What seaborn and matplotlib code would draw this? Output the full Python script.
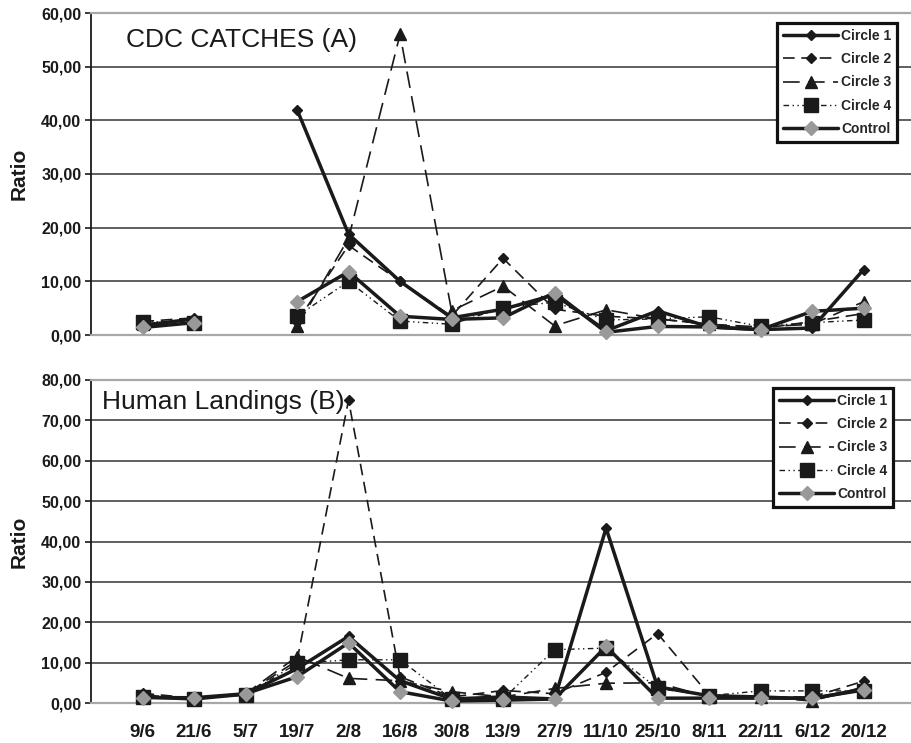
import numpy as np
import pandas as pd
import matplotlib
matplotlib.use("Agg")
import matplotlib.pyplot as plt
from matplotlib.lines import Line2D
from matplotlib.ticker import FuncFormatter, MultipleLocator
import seaborn as sns

dates = ["9/6", "21/6", "5/7", "19/7", "2/8", "16/8", "30/8", "13/9", "27/9",
         "11/10", "25/10", "8/11", "22/11", "6/12", "20/12"]
series_names = ["Circle 1", "Circle 2", "Circle 3", "Circle 4", "Control"]

# Panel A: CDC catches
cdc_circle1 = [1.8, 3.0, np.nan, 42.0, 18.8, 10.0, 3.2, 4.8, 7.5, 0.8, 4.5, 1.5, 1.0, 1.3, 12.2]
cdc_circle2 = [2.5, 3.2, np.nan, 2.5, 16.7, 10.0, 3.5, 14.3, 4.8, 3.5, 3.0, 2.0, 1.2, 2.5, 4.0]
cdc_circle3 = [2.0, 2.8, np.nan, 1.6, 18.0, 56.0, 4.5, 9.1, 1.7, 4.7, 3.0, 2.0, 1.5, 2.0, 6.2]
cdc_circle4 = [2.5, 2.3, np.nan, 3.5, 10.0, 2.6, 2.0, 5.1, 6.1, 2.8, 3.0, 3.4, 1.6, 2.3, 2.8]
cdc_control = [1.4, 2.3, np.nan, 6.2, 11.8, 3.5, 2.9, 3.2, 7.9, 0.5, 1.6, 1.5, 1.0, 4.4, 5.0]

# Panel B: Human landings
hl_circle1 = [1.5, 1.0, 2.2, 8.5, 16.5, 5.5, 1.0, 1.5, 1.0, 43.3, 4.0, 1.8, 1.5, 1.0, 3.5]
hl_circle2 = [2.4, 1.2, 2.2, 10.5, 75.0, 6.5, 1.5, 3.1, 2.3, 7.6, 17.2, 2.0, 1.5, 1.5, 5.4]
hl_circle3 = [2.0, 1.0, 2.3, 11.5, 6.1, 5.5, 2.8, 1.5, 3.6, 4.9, 5.0, 1.5, 1.5, 0.5, 4.0]
hl_circle4 = [1.4, 0.9, 2.0, 9.8, 10.7, 10.7, 1.0, 1.0, 13.2, 13.6, 3.6, 1.8, 3.0, 3.0, 3.0]
hl_control = [1.35, 1.3, 2.3, 6.5, 14.9, 2.8, 0.5, 0.7, 1.0, 14.0, 1.2, 1.2, 1.2, 1.2, 3.2]

panel_titles = ["CDC CATCHES (A)", "Human Landings (B)"]
y_max = [60, 80]

sns.set_theme(style="white")
plt.rcParams["font.family"] = ["Liberation Sans", "DejaVu Sans"]

styles = {
    "Circle 1": dict(color="#1a1a1a", marker="D", markersize=5.5, markerfacecolor="#1a1a1a",
                     markeredgecolor="#1a1a1a", linewidth=2.5, linestyle="-"),
    "Circle 2": dict(color="#1a1a1a", marker="D", markersize=5.0, markerfacecolor="#1a1a1a",
                     markeredgecolor="#1a1a1a", linewidth=1.2, linestyle=(0, (7, 4))),
    "Circle 3": dict(color="#1a1a1a", marker="^", markersize=8, markerfacecolor="#1a1a1a",
                     markeredgecolor="#1a1a1a", linewidth=1.2, linestyle=(0, (10, 5))),
    "Circle 4": dict(color="#1a1a1a", marker="s", markersize=9.5, markerfacecolor="#1a1a1a",
                     markeredgecolor="#1a1a1a", linewidth=1.0, linestyle=(0, (4, 2.5, 1, 2.5, 1, 2.5))),
    "Control": dict(color="#1a1a1a", marker="D", markersize=7, markerfacecolor="#999999",
                    markeredgecolor="#999999", linewidth=2.5, linestyle="-"),
}

panels = [
    [cdc_circle1, cdc_circle2, cdc_circle3, cdc_circle4, cdc_control],
    [hl_circle1, hl_circle2, hl_circle3, hl_circle4, hl_control],
]

fig = plt.figure(figsize=(9.11, 7.43), dpi=100)
W, H = 911, 743
ax_top = fig.add_axes([91 / W, 1 - 335 / H, (W - 91) / W, (335 - 13) / H])
ax_bot = fig.add_axes([91 / W, 1 - 703 / H, (W - 91) / W, (703 - 380) / H])
axes = [ax_top, ax_bot]

fmt = FuncFormatter(lambda v, p: f"{v:.2f}".replace(".", ","))
xpos = np.arange(len(dates))

for i, ax in enumerate(axes):
    for name, vals in zip(series_names, panels[i]):
        df = pd.DataFrame({"x": xpos, "y": vals}).dropna()
        df["seg"] = (df["x"].diff() > 1).cumsum()
        sns.lineplot(data=df, x="x", y="y", units="seg", estimator=None, sort=False,
                     ax=ax, legend=False, clip_on=False, zorder=3,
                     markeredgewidth=1.0, **styles[name])
    ax.set_xlim(-1.0, len(dates) - 0.08)
    ax.set_ylim(0, y_max[i])
    ax.yaxis.set_major_locator(MultipleLocator(10))
    ax.yaxis.set_major_formatter(fmt)
    ax.set_xticks(xpos)
    ax.grid(axis="y", color="#444444", linewidth=1.2)
    ax.grid(axis="x", visible=False)
    ax.set_axisbelow(True)
    for s in ["top", "bottom"]:
        ax.spines[s].set_color("#a8a8a8")
        ax.spines[s].set_linewidth(1.6)
    ax.spines["right"].set_visible(False)
    ax.spines["left"].set_color("#1a1a1a")
    ax.spines["left"].set_linewidth(1.3)
    ax.tick_params(axis="y", left=True, length=4, width=1.2, color="#1a1a1a", pad=3,
                   labelsize=11.5, labelcolor="#1a1a1a")
    for lab in ax.get_yticklabels():
        lab.set_fontweight("bold")
    ax.set_ylabel("Ratio", fontsize=15, fontweight="bold", color="#1a1a1a", labelpad=9)
    ax.set_xlabel("")
    ax.text(0.0427 if i == 0 else 0.0134, 0.916 if i == 0 else 0.932, panel_titles[i],
            transform=ax.transAxes, ha="left", va="center", fontsize=19, color="#1a1a1a")

    handles = [Line2D([], [], **styles[n]) for n in series_names]
    leg = ax.legend(handles, series_names, loc="upper right",
                    bbox_to_anchor=(1 - (14 if i == 0 else 18) / 820,
                                    1 - (10 if i == 0 else 8) / (322 if i == 0 else 323)),
                    borderaxespad=0, frameon=True, fancybox=False, framealpha=1,
                    edgecolor="#111111", prop={"weight": "bold", "size": 10},
                    handlelength=4.0, handletextpad=0.2, labelspacing=0.68,
                    borderpad=0.4)
    leg.get_frame().set_linewidth(2.3)
    leg.set_zorder(5)

ax_top.tick_params(axis="x", bottom=False, labelbottom=False)
ax_bot.tick_params(axis="x", bottom=False, labelbottom=True, labelsize=13.5, pad=9,
                   labelcolor="#1a1a1a")
ax_bot.set_xticklabels(dates)
for lab in ax_bot.get_xticklabels():
    lab.set_fontweight("bold")

fig.savefig("out.png", dpi=100)
